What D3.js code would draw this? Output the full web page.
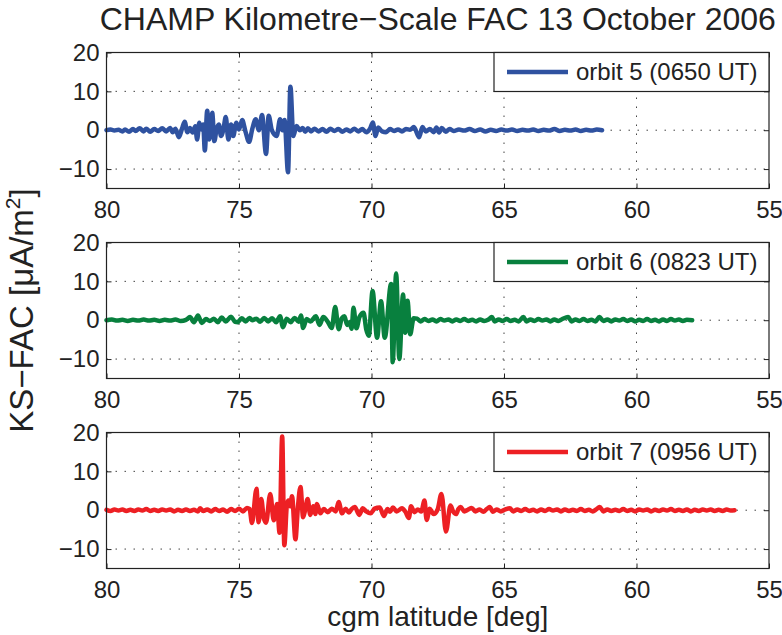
<!DOCTYPE html>
<html>
<head>
<meta charset="utf-8">
<script src="https://cdn.jsdelivr.net/npm/d3@7"></script>
<style>
  body { margin: 0; background: #fff; }
  svg text { font-family: "Liberation Sans", Arial, Helvetica, sans-serif; fill: #222; }
</style>
</head>
<body>
<svg id="chart" width="782" height="635"></svg>
<script>
// axis ticks
var latTicks = [80, 75, 70, 65, 60, 55];
var facTicks = [-10, 0, 10, 20];
var facTickLabels = ["\u221210", "0", "10", "20"];

var orbitNames = ["orbit 5 (0650 UT)", "orbit 6 (0823 UT)", "orbit 7 (0956 UT)"];
var orbitColors = ["#2f52a0", "#08803e", "#ed2024"];

// [cgm latitude, KS-FAC uA/m^2]
var orbit5 = [
  [80.0,0.0],[79.85,0.2],[79.7,-0.1],[79.55,0.1],[79.4,-0.3],[79.3,0.2],[79.15,-0.4],[79.0,0.3],[78.9,-0.2],[78.75,0.5],
  [78.6,-0.3],[78.5,0.4],[78.35,-0.4],[78.2,0.3],[78.05,-0.2],[77.9,0.5],[77.75,-0.3],[77.6,0.6],[77.5,-0.5],[77.4,0.4],
  [77.27,-1.8],[77.15,0.4],[77.05,2.2],[76.95,-0.5],[76.85,0.6],[76.75,-0.6],[76.65,1.0],[76.58,-2.4],[76.5,1.9],[76.42,0.2],
  [76.35,1.5],[76.29,-5.2],[76.2,5.0],[76.12,-2.4],[76.01,4.5],[75.93,-2.8],[75.85,0.2],[75.76,1.5],[75.68,-1.5],[75.58,0.5],
  [75.5,3.4],[75.4,-2.4],[75.3,1.5],[75.22,-1.5],[75.1,1.9],[75.0,0.2],[74.88,2.6],[74.75,-0.5],[74.62,-3.0],[74.5,0.3],
  [74.37,2.8],[74.25,0.0],[74.13,3.9],[73.98,-6.1],[73.88,3.7],[73.76,0.0],[73.58,-1.5],[73.45,2.8],[73.36,0.0],[73.28,2.6],
  [73.15,-10.8],[73.06,11.2],[72.95,-1.5],[72.83,1.1],[72.7,0.0],[72.6,0.6],[72.5,-0.4],[72.4,0.5],[72.28,-0.3],[72.15,0.4],
  [72.0,-0.3],[71.85,0.3],[71.7,-0.4],[71.55,0.4],[71.4,-0.2],[71.25,0.3],[71.1,-0.4],[70.95,0.2],[70.8,-0.3],[70.65,0.4],
  [70.5,-0.3],[70.35,0.3],[70.2,-0.5],[70.05,0.5],[69.95,2.0],[69.85,-1.5],[69.75,0.7],[69.6,-0.3],[69.45,-0.5],[69.3,0.3],
  [69.15,-0.2],[69.0,0.2],[68.85,-0.3],[68.7,0.3],[68.55,0.1],[68.4,0.8],[68.2,-1.8],[68.08,0.8],[67.95,-0.3],[67.8,0.3],
  [67.65,-0.5],[67.55,0.7],[67.45,-0.6],[67.35,0.6],[67.2,-0.4],[67.05,0.3],[66.9,-0.2],[66.7,0.2],[66.5,-0.1],[66.3,0.3],
  [66.1,-0.2],[65.9,0.2],[65.7,-0.3],[65.5,0.1],[65.3,-0.2],[65.1,0.2],[64.9,-0.1],[64.7,0.2],[64.5,-0.2],[64.3,0.1],
  [64.1,-0.1],[63.9,0.2],[63.7,-0.2],[63.5,0.1],[63.3,-0.1],[63.1,0.3],[62.9,-0.2],[62.7,0.1],[62.5,-0.1],[62.3,0.2],
  [62.1,-0.2],[61.9,0.1],[61.7,-0.1],[61.5,0.2],[61.3,0.0]
];

var orbit6 = [
  [80.0,0.0],[79.8,0.2],[79.6,-0.1],[79.4,0.1],[79.2,-0.2],[79.0,0.1],[78.8,-0.1],[78.6,0.2],[78.4,-0.1],[78.2,0.1],
  [78.0,-0.2],[77.8,0.1],[77.6,-0.1],[77.4,0.2],[77.2,-0.2],[77.0,0.1],[76.85,0.8],[76.7,-0.5],[76.55,1.2],[76.4,-0.7],
  [76.25,0.3],[76.1,-0.2],[75.95,0.4],[75.8,-0.5],[75.65,0.7],[75.5,-0.3],[75.3,0.9],[75.15,-0.4],[75.05,-0.5],[74.9,0.5],
  [74.75,-0.3],[74.6,0.6],[74.5,0.0],[74.35,0.4],[74.2,-0.4],[74.05,0.6],[73.9,-0.3],[73.75,0.5],[73.6,-0.5],[73.45,1.0],
  [73.34,-1.8],[73.2,0.4],[73.05,-0.5],[72.9,0.6],[72.75,-0.4],[72.66,1.2],[72.58,-2.0],[72.45,0.3],[72.3,-0.3],[72.1,1.0],
  [71.96,-1.2],[71.82,0.8],[71.65,-0.4],[71.5,-2.0],[71.37,3.4],[71.24,-2.3],[71.12,0.5],[71.02,1.0],[70.92,-1.2],[70.83,-0.5],
  [70.75,-2.2],[70.68,3.2],[70.57,-2.1],[70.45,0.9],[70.3,1.9],[70.2,-2.3],[70.1,-4.0],[69.96,7.5],[69.79,-4.5],[69.64,4.9],
  [69.5,-4.5],[69.26,9.3],[69.2,-10.8],[69.07,12.0],[68.95,-10.0],[68.81,6.6],[68.73,-3.2],[68.64,5.0],[68.54,-3.6],[68.41,0.5],
  [68.28,0.4],[68.15,-0.3],[68.0,0.3],[67.85,-0.2],[67.7,0.2],[67.55,-0.3],[67.4,0.3],[67.25,-0.1],[67.1,0.2],[66.95,-0.3],
  [66.8,0.2],[66.65,-0.2],[66.5,0.3],[66.35,-0.2],[66.2,0.1],[66.05,-0.3],[65.9,0.2],[65.75,-0.2],[65.6,0.1],[65.46,0.8],
  [65.35,-0.3],[65.2,0.2],[65.05,-0.2],[64.9,0.3],[64.75,-0.2],[64.6,0.1],[64.45,-0.3],[64.27,0.8],[64.15,-0.3],[64.0,0.2],
  [63.85,-0.2],[63.7,0.3],[63.55,-0.1],[63.4,0.2],[63.25,-0.3],[63.1,0.2],[62.95,-0.2],[62.8,0.3],[62.58,0.8],[62.45,-0.3],
  [62.3,0.2],[62.15,-0.2],[62.0,0.3],[61.85,-0.2],[61.7,0.1],[61.55,-0.3],[61.4,0.8],[61.25,-0.2],[61.1,0.2],[60.95,-0.3],
  [60.8,0.2],[60.65,-0.1],[60.5,0.3],[60.35,-0.2],[60.2,0.2],[60.05,-0.3],[59.9,0.1],[59.75,-0.2],[59.6,0.3],[59.45,-0.2],
  [59.3,0.1],[59.15,-0.3],[59.0,0.2],[58.85,-0.2],[58.7,0.3],[58.55,-0.1],[58.4,0.2],[58.25,-0.2],[58.1,0.1],[57.9,0.0]
];

var orbit7 = [
  [80.0,0.1],[79.85,-0.2],[79.7,0.2],[79.55,-0.1],[79.4,0.2],[79.25,-0.2],[79.1,0.1],[78.95,-0.2],[78.8,0.2],[78.65,-0.1],
  [78.5,0.3],[78.35,-0.2],[78.2,0.1],[78.05,-0.2],[77.9,0.2],[77.75,-0.1],[77.6,0.2],[77.45,-0.3],[77.3,0.1],[77.15,-0.2],
  [77.0,0.2],[76.85,-0.2],[76.7,0.1],[76.55,-0.3],[76.47,0.5],[76.35,-0.2],[76.2,0.2],[76.05,-0.3],[75.9,0.3],[75.75,-0.2],
  [75.6,0.2],[75.45,-0.4],[75.3,0.3],[75.15,-0.2],[75.0,0.4],[74.85,-0.3],[74.7,0.6],[74.6,0.3],
  [74.51,-3.3],[74.34,5.5],[74.26,-3.1],[74.16,2.9],[74.07,-1.8],[73.98,-3.2],[73.82,4.2],[73.69,-2.6],[73.56,1.6],[73.47,-5.8],
  [73.37,19.0],[73.29,-9.0],[73.19,1.6],[73.13,2.5],[73.07,1.0],[73.0,3.6],[72.87,-7.5],[72.78,0.5],[72.68,6.0],[72.58,-1.8],
  [72.5,0.2],[72.41,2.9],[72.31,-1.2],[72.2,1.0],[72.12,-1.0],[72.06,1.6],[71.93,-0.8],[71.8,0.3],[71.65,-0.5],[71.5,0.4],
  [71.35,-0.3],[71.24,2.1],[71.11,-0.8],[70.98,0.4],[70.85,-0.6],[70.75,0.3],[70.63,0.8],[70.46,-1.2],[70.33,0.5],[70.2,-0.3],
  [70.03,-0.8],[69.88,0.4],[69.69,0.7],[69.53,-1.5],[69.4,0.3],[69.3,-0.4],[69.19,0.7],[69.05,-0.3],[68.85,0.5],[68.72,-0.4],
  [68.59,-2.0],[68.51,1.0],[68.38,-0.5],[68.25,0.2],[68.12,-0.3],[68.0,2.5],[67.92,-2.5],[67.8,0.4],[67.66,-1.0],[67.5,0.3],
  [67.36,4.2],[67.19,-5.5],[67.02,1.2],[66.92,-0.3],[66.81,-1.0],[66.72,0.3],[66.64,0.8],[66.5,-0.3],[66.35,0.2],[66.22,0.6],
  [66.08,-0.3],[65.92,0.2],[65.78,-0.4],[65.65,0.3],[65.54,0.8],[65.42,-0.4],[65.28,0.2],[65.12,-0.3],[64.95,0.2],[64.78,0.5],
  [64.65,-0.3],[64.5,0.2],[64.35,-0.2],[64.2,0.3],[64.05,-0.2],[63.9,0.1],[63.75,-0.3],[63.6,0.2],[63.45,-0.2],[63.3,0.3],
  [63.15,-0.1],[63.0,0.2],[62.85,-0.3],[62.7,0.2],[62.55,-0.2],[62.4,0.1],[62.25,-0.2],[62.1,0.3],[61.95,-0.2],[61.8,0.1],
  [61.65,-0.3],[61.52,0.2],[61.39,0.8],[61.25,-0.3],[61.1,0.2],[60.95,-0.2],[60.8,0.1],[60.65,-0.2],[60.5,0.3],[60.35,-0.2],
  [60.2,0.1],[60.05,-0.3],[59.9,0.2],[59.75,-0.1],[59.6,0.2],[59.45,-0.3],[59.3,0.1],[59.15,-0.2],[59.0,0.2],[58.85,-0.1],
  [58.7,0.3],[58.55,-0.2],[58.4,0.1],[58.25,-0.2],[58.1,0.2],[57.95,-0.3],[57.8,0.1],[57.65,-0.2],[57.5,0.2],[57.35,-0.1],
  [57.2,0.2],[57.05,-0.2],[56.9,0.1],[56.75,-0.2],[56.6,0.2],[56.45,-0.1],[56.3,0.0]
];

var svg = d3.select("#chart");
var fontFam = "'Liberation Sans', Arial, Helvetica, sans-serif";

var plotLeft = 106.5, plotRight = 769,
    plotTop = 52.5, plotH = 136, plotStep = 190;

var x = d3.scaleLinear().domain([80, 55]).range([plotLeft, plotRight]);

var series = [orbit5, orbit6, orbit7];

function styleAxis(sel) {
    sel.attr("font-family", fontFam).attr("font-size", 24);
    sel.select(".domain").remove();
    sel.selectAll("line").attr("stroke", "#222");
    sel.selectAll("text").attr("fill", "#222");
}

series.forEach(function(data, i) {
    var top = plotTop + i * plotStep;
    var bottom = top + plotH;
    var y = d3.scaleLinear().domain([-15, 20]).range([bottom, top]);
    var g = svg.append("g").attr("class", "panel");

    // dotted grid
    g.append("g")
        .selectAll("line.vg")
        .data(latTicks.slice(1, -1))
        .enter().append("line")
        .attr("x1", function(d) { return x(d); })
        .attr("x2", function(d) { return x(d); })
        .attr("y1", top).attr("y2", bottom);
    g.append("g")
        .selectAll("line.hg")
        .data(facTicks.filter(function(d) { return d < 20; }))
        .enter().append("line")
        .attr("x1", plotLeft).attr("x2", plotRight)
        .attr("y1", function(d) { return y(d); })
        .attr("y2", function(d) { return y(d); });
    g.selectAll("line")
        .attr("stroke", "#444")
        .attr("stroke-width", 1)
        .attr("stroke-dasharray", "1.5,7.5");

    // ticks, pointing inwards like matlab
    g.append("g")
        .attr("transform", "translate(0," + bottom + ")")
        .call(d3.axisBottom(x).tickValues(latTicks).tickSizeInner(-5).tickSizeOuter(0).tickPadding(12))
        .call(styleAxis);
    g.append("g")
        .attr("transform", "translate(0," + top + ")")
        .call(d3.axisTop(x).tickValues(latTicks).tickSizeInner(-5).tickSizeOuter(0).tickFormat(""))
        .call(styleAxis);
    g.append("g")
        .attr("transform", "translate(" + plotLeft + ",0)")
        .call(d3.axisLeft(y).tickValues(facTicks).tickSizeInner(-5).tickSizeOuter(0).tickPadding(7)
            .tickFormat(function(d, k) { return facTickLabels[k]; }))
        .call(styleAxis);
    g.append("g")
        .attr("transform", "translate(" + plotRight + ",0)")
        .call(d3.axisRight(y).tickValues(facTicks).tickSizeInner(-5).tickSizeOuter(0).tickFormat(""))
        .call(styleAxis);

    // the trace
    var line = d3.line()
        .curve(d3.curveMonotoneX)
        .x(function(d) { return x(d[0]); })
        .y(function(d) { return y(d[1]); });
    g.append("path")
        .datum(data)
        .attr("d", line)
        .attr("fill", "none")
        .attr("stroke", orbitColors[i])
        .attr("stroke-width", 4.5)
        .attr("stroke-linejoin", "round")
        .attr("stroke-linecap", "round");

    // box
    g.append("rect")
        .attr("x", plotLeft).attr("y", top)
        .attr("width", plotRight - plotLeft).attr("height", plotH)
        .attr("fill", "none").attr("stroke", "#222").attr("stroke-width", 1.2);

    // legend, top right
    var lg = g.append("g").attr("transform", "translate(494," + top + ")");
    lg.append("rect")
        .attr("width", plotRight - 494).attr("height", 39)
        .attr("fill", "#fff").attr("stroke", "#222").attr("stroke-width", 1.2);
    lg.append("line")
        .attr("x1", 13).attr("x2", 74).attr("y1", 19.5).attr("y2", 19.5)
        .attr("stroke", orbitColors[i]).attr("stroke-width", 4.5);
    lg.append("text")
        .attr("x", 82).attr("y", 19.5).attr("dy", "0.35em")
        .attr("font-size", 24)
        .text(orbitNames[i]);
});

// titles
svg.append("text")
    .attr("x", (plotLeft + plotRight) / 2).attr("y", 30)
    .attr("text-anchor", "middle").attr("font-size", 32)
    .text("CHAMP Kilometre\u2212Scale FAC 13 October 2006");

svg.append("text")
    .attr("x", (plotLeft + plotRight) / 2).attr("y", 626)
    .attr("text-anchor", "middle").attr("font-size", 28)
    .text("cgm latitude [deg]");

var ylab = svg.append("text")
    .attr("transform", "translate(33," + (plotTop + (2 * plotStep + plotH) / 2) + ") rotate(-90)")
    .attr("text-anchor", "middle").attr("font-size", 33);
ylab.append("tspan").text("KS\u2212FAC [\u03bcA/m");
ylab.append("tspan").attr("font-size", 21).attr("dy", -13).text("2");
ylab.append("tspan").attr("dy", 13).text("]");
</script>
</body>
</html>
